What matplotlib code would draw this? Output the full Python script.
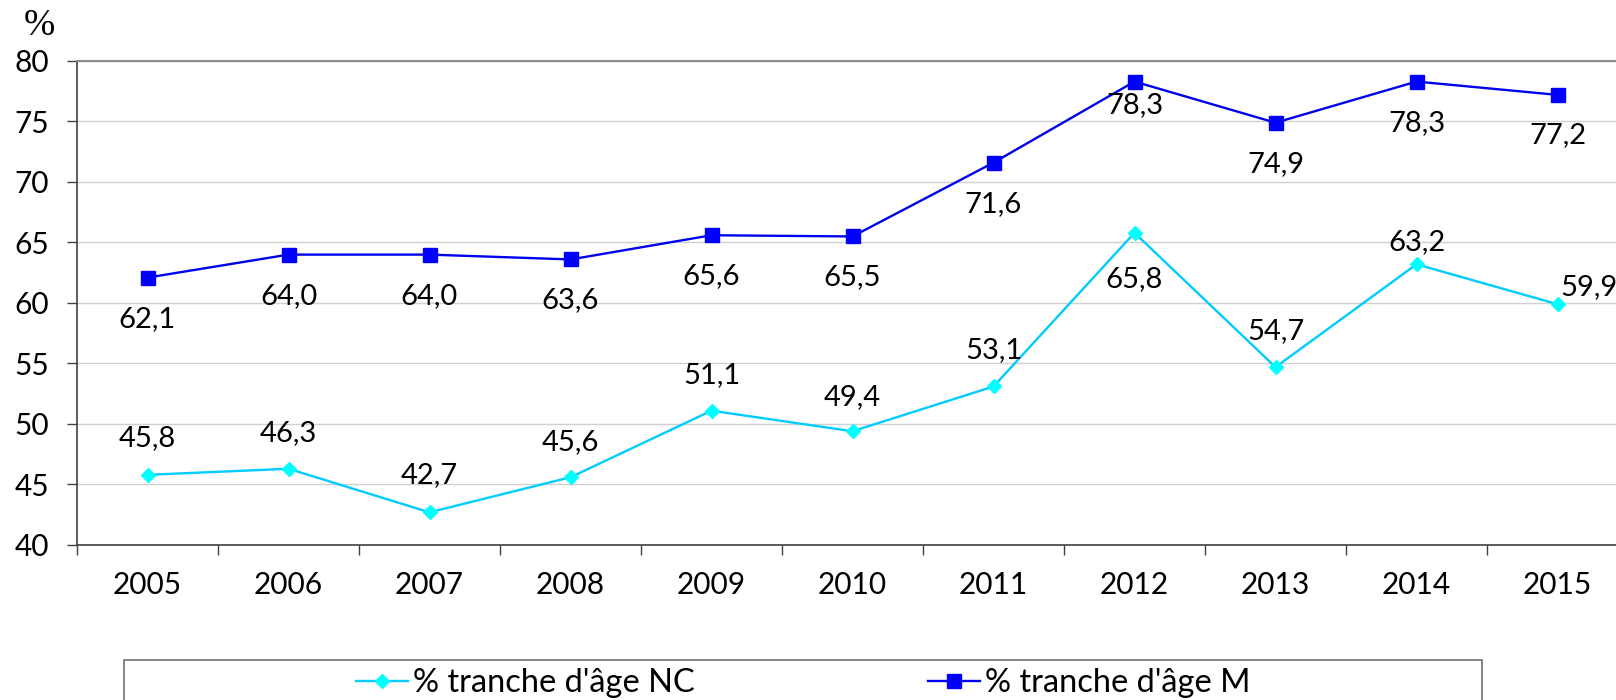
import matplotlib
matplotlib.use('Agg')
import matplotlib.pyplot as plt
from matplotlib.patches import Rectangle
import numpy as np

years = ['2005', '2006', '2007', '2008', '2009', '2010', '2011', '2012', '2013', '2014', '2015']
nc = [45.8, 46.3, 42.7, 45.6, 51.1, 49.4, 53.1, 65.8, 54.7, 63.2, 59.9]
m = [62.1, 64.0, 64.0, 63.6, 65.6, 65.5, 71.6, 78.3, 74.9, 78.3, 77.2]
yticks = [40, 45, 50, 55, 60, 65, 70, 75, 80]

# label offsets in pixels (dx, dy), tuned to the reference
nc_off = [(0, 37), (0, 36), (0, 37), (0, 35), (0, 36), (0, 34), (0, 36), (0, -46), (0, 36), (0, 22), (31, 17)]
m_off = [(0, -41), (0, -41), (0, -41), (0, -41), (0, -41), (0, -41), (0, -41), (0, -23), (0, -41), (0, -41), (0, -40)]

plt.rcParams['font.family'] = ['Lato', 'DejaVu Sans']

fig = plt.figure(figsize=(16.16, 7.0), dpi=100)
ax = fig.add_axes([77 / 1616, 155 / 700, 1551 / 1616, 484 / 700])

x = np.arange(len(years))
ax.plot(x, nc, color='#00CCFF', lw=1.7, marker='D', markersize=7.5,
        markerfacecolor='#00FFFF', markeredgecolor='#00FFFF', label="% tranche d'âge NC", zorder=3)
ax.plot(x, m, color='#0000EE', lw=1.7, marker='s', markersize=10.5,
        markerfacecolor='#0000FF', markeredgecolor='#0000FF', label="% tranche d'âge M", zorder=3)

for i in range(len(years)):
    ax.annotate(f'{nc[i]:.1f}'.replace('.', ','), (x[i], nc[i]), xytext=nc_off[i],
                textcoords='offset pixels', ha='center', va='center', fontsize=21)
    ax.annotate(f'{m[i]:.1f}'.replace('.', ','), (x[i], m[i]), xytext=m_off[i],
                textcoords='offset pixels', ha='center', va='center', fontsize=21)

ax.set_xlim(-0.5, len(years) - 0.5)
ax.set_ylim(40, 80)
ax.set_yticks(yticks)
ax.tick_params(axis='y', length=7.2, width=1, pad=13, labelsize=21.5, color='#404040')
ax.set_xticks(np.arange(len(years) + 1) - 0.5)
ax.set_xticklabels([])
ax.tick_params(axis='x', which='major', length=7.2, width=1, color='#404040')
ax.set_xticks(x, minor=True)
ax.set_xticklabels(years, minor=True)
ax.tick_params(axis='x', which='minor', length=0, pad=19, labelsize=21.5)

ax.grid(axis='y', color='#D0D0D0', lw=1)
ax.set_axisbelow(True)
ax.spines['top'].set_color('#8C8C8C')
ax.spines['top'].set_linewidth(1.5)
ax.spines['right'].set_visible(False)
ax.spines['left'].set_color('#404040')
ax.spines['bottom'].set_color('#404040')
ax.spines['left'].set_linewidth(1.2)
ax.spines['bottom'].set_linewidth(1.2)

fig.text(39 / 1616, 1 - 26 / 700, '%', family='Liberation Serif', fontsize=27, ha='center', va='center')

fig.patches.append(Rectangle((124 / 1616, -0.02), 1358 / 1616, 0.02 + 40 / 700,
                             transform=fig.transFigure, fill=False, edgecolor='#707070', lw=1.2))
fig.legend(loc='center left', bbox_to_anchor=(356 / 1616, 1 - 683 / 700), ncol=2, frameon=False,
           fontsize=23.5, handlelength=1.6, handletextpad=0.15, columnspacing=7.15, borderpad=0,
           borderaxespad=0)

fig.savefig('out.png', dpi=100)
